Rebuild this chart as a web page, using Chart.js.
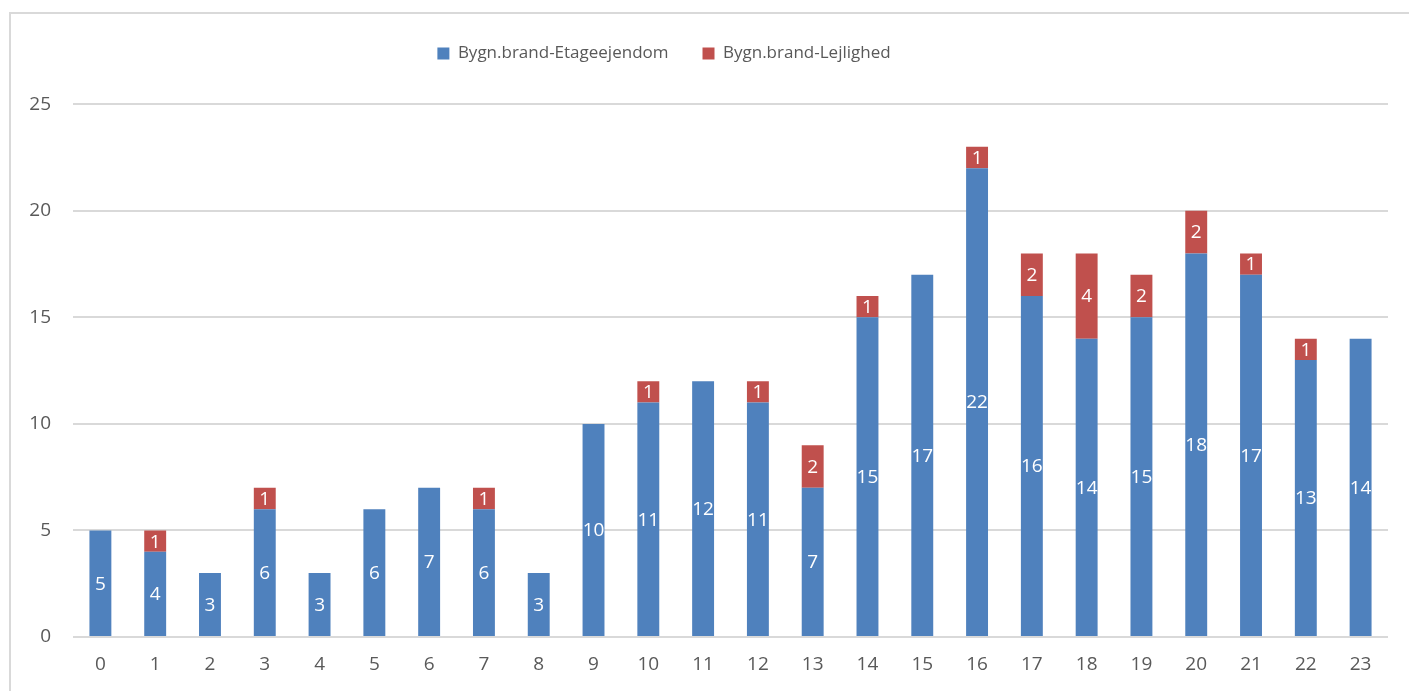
<!DOCTYPE html>
<html>
<head>
<meta charset="utf-8">
<script src="https://cdn.jsdelivr.net/npm/chart.js@4/dist/chart.umd.min.js"></script>
<style>
  html, body { margin: 0; padding: 0; background: #fff; overflow: hidden; }
  #frame { position: absolute; left: 9px; top: 12px; width: 1500px; height: 800px; border: 2px solid #d9d9d9; }
  #wrap { position: absolute; left: 0; top: 0; width: 1409px; height: 691px; }
</style>
</head>
<body>
<div id="frame"></div>
<div id="wrap"><canvas id="fireChart" width="1409" height="691"></canvas></div>
<script>
const hours = ['0','1','2','3','4','5','6','7','8','9','10','11','12','13','14','15','16','17','18','19','20','21','22','23'];
const etageejendom = [5, 4, 3, 6, 3, 6, 7, 6, 3, 10, 11, 12, 11, 7, 15, 17, 22, 16, 14, 15, 18, 17, 13, 14];
const lejlighed = [0, 1, 0, 1, 0, 0, 0, 1, 0, 0, 1, 0, 1, 2, 1, 0, 1, 2, 4, 2, 2, 1, 1, 0];

const fontFamily = "'Open Sans', 'Noto Sans', sans-serif";

// draws the value in the middle of each bar segment
const segmentLabels = {
  id: 'segmentLabels',
  afterDatasetsDraw(chart) {
    const ctx = chart.ctx;
    ctx.save();
    ctx.fillStyle = '#ffffff';
    ctx.font = '19px ' + fontFamily;
    ctx.textAlign = 'center';
    ctx.textBaseline = 'middle';
    chart.data.datasets.forEach((ds, i) => {
      const meta = chart.getDatasetMeta(i);
      meta.data.forEach((bar, j) => {
        const v = ds.data[j];
        if (!v) return;
        ctx.fillText(String(v), bar.x, (bar.y + bar.base) / 2 + 1);
      });
    });
    ctx.restore();
  }
};

// legend in the original sits a bit left of centre
const legendShift = {
  id: 'legendShift',
  afterLayout(chart) {
    chart.legend.left -= 30;
    chart.legend.right -= 30;
  }
};

const ctx = document.getElementById('fireChart').getContext('2d');
new Chart(ctx, {
  type: 'bar',
  data: {
    labels: hours,
    datasets: [{
      label: 'Bygn.brand-Etageejendom',
      data: etageejendom,
      backgroundColor: '#4f81bd',
      barPercentage: 0.4,
      categoryPercentage: 1
    }, {
      label: 'Bygn.brand-Lejlighed',
      data: lejlighed,
      backgroundColor: '#c0504d',
      barPercentage: 0.4,
      categoryPercentage: 1
    }]
  },
  options: {
    responsive: false,
    animation: false,
    devicePixelRatio: 1,
    layout: { padding: { top: 11, right: 21, left: 0, bottom: 0 } },
    scales: {
      x: {
        stacked: true,
        grid: { display: false, drawTicks: false },
        border: { display: false },
        ticks: { color: '#595959', font: { family: fontFamily, size: 19 }, padding: 16, maxRotation: 0, autoSkip: false },
        afterFit(scale) { scale.height = 54; }
      },
      y: {
        stacked: true,
        min: 0,
        max: 25,
        ticks: { stepSize: 5, color: '#595959', font: { family: fontFamily, size: 19 }, padding: 22 },
        grid: { color: '#d9d9d9', lineWidth: 2, drawTicks: false },
        border: { display: false },
        afterFit(scale) { scale.width = 73; }
      }
    },
    plugins: {
      legend: {
        position: 'top',
        labels: {
          color: '#595959',
          font: { family: fontFamily, size: 17 },
          boxWidth: 12,
          boxHeight: 12,
          padding: 34
        }
      },
      // empty spacer between legend and plot
      subtitle: {
        display: true,
        text: '',
        weight: 500,
        font: { size: 1 },
        padding: { top: 0, bottom: 31 }
      },
      tooltip: { enabled: false }
    }
  },
  plugins: [segmentLabels, legendShift]
});
</script>
</body>
</html>
